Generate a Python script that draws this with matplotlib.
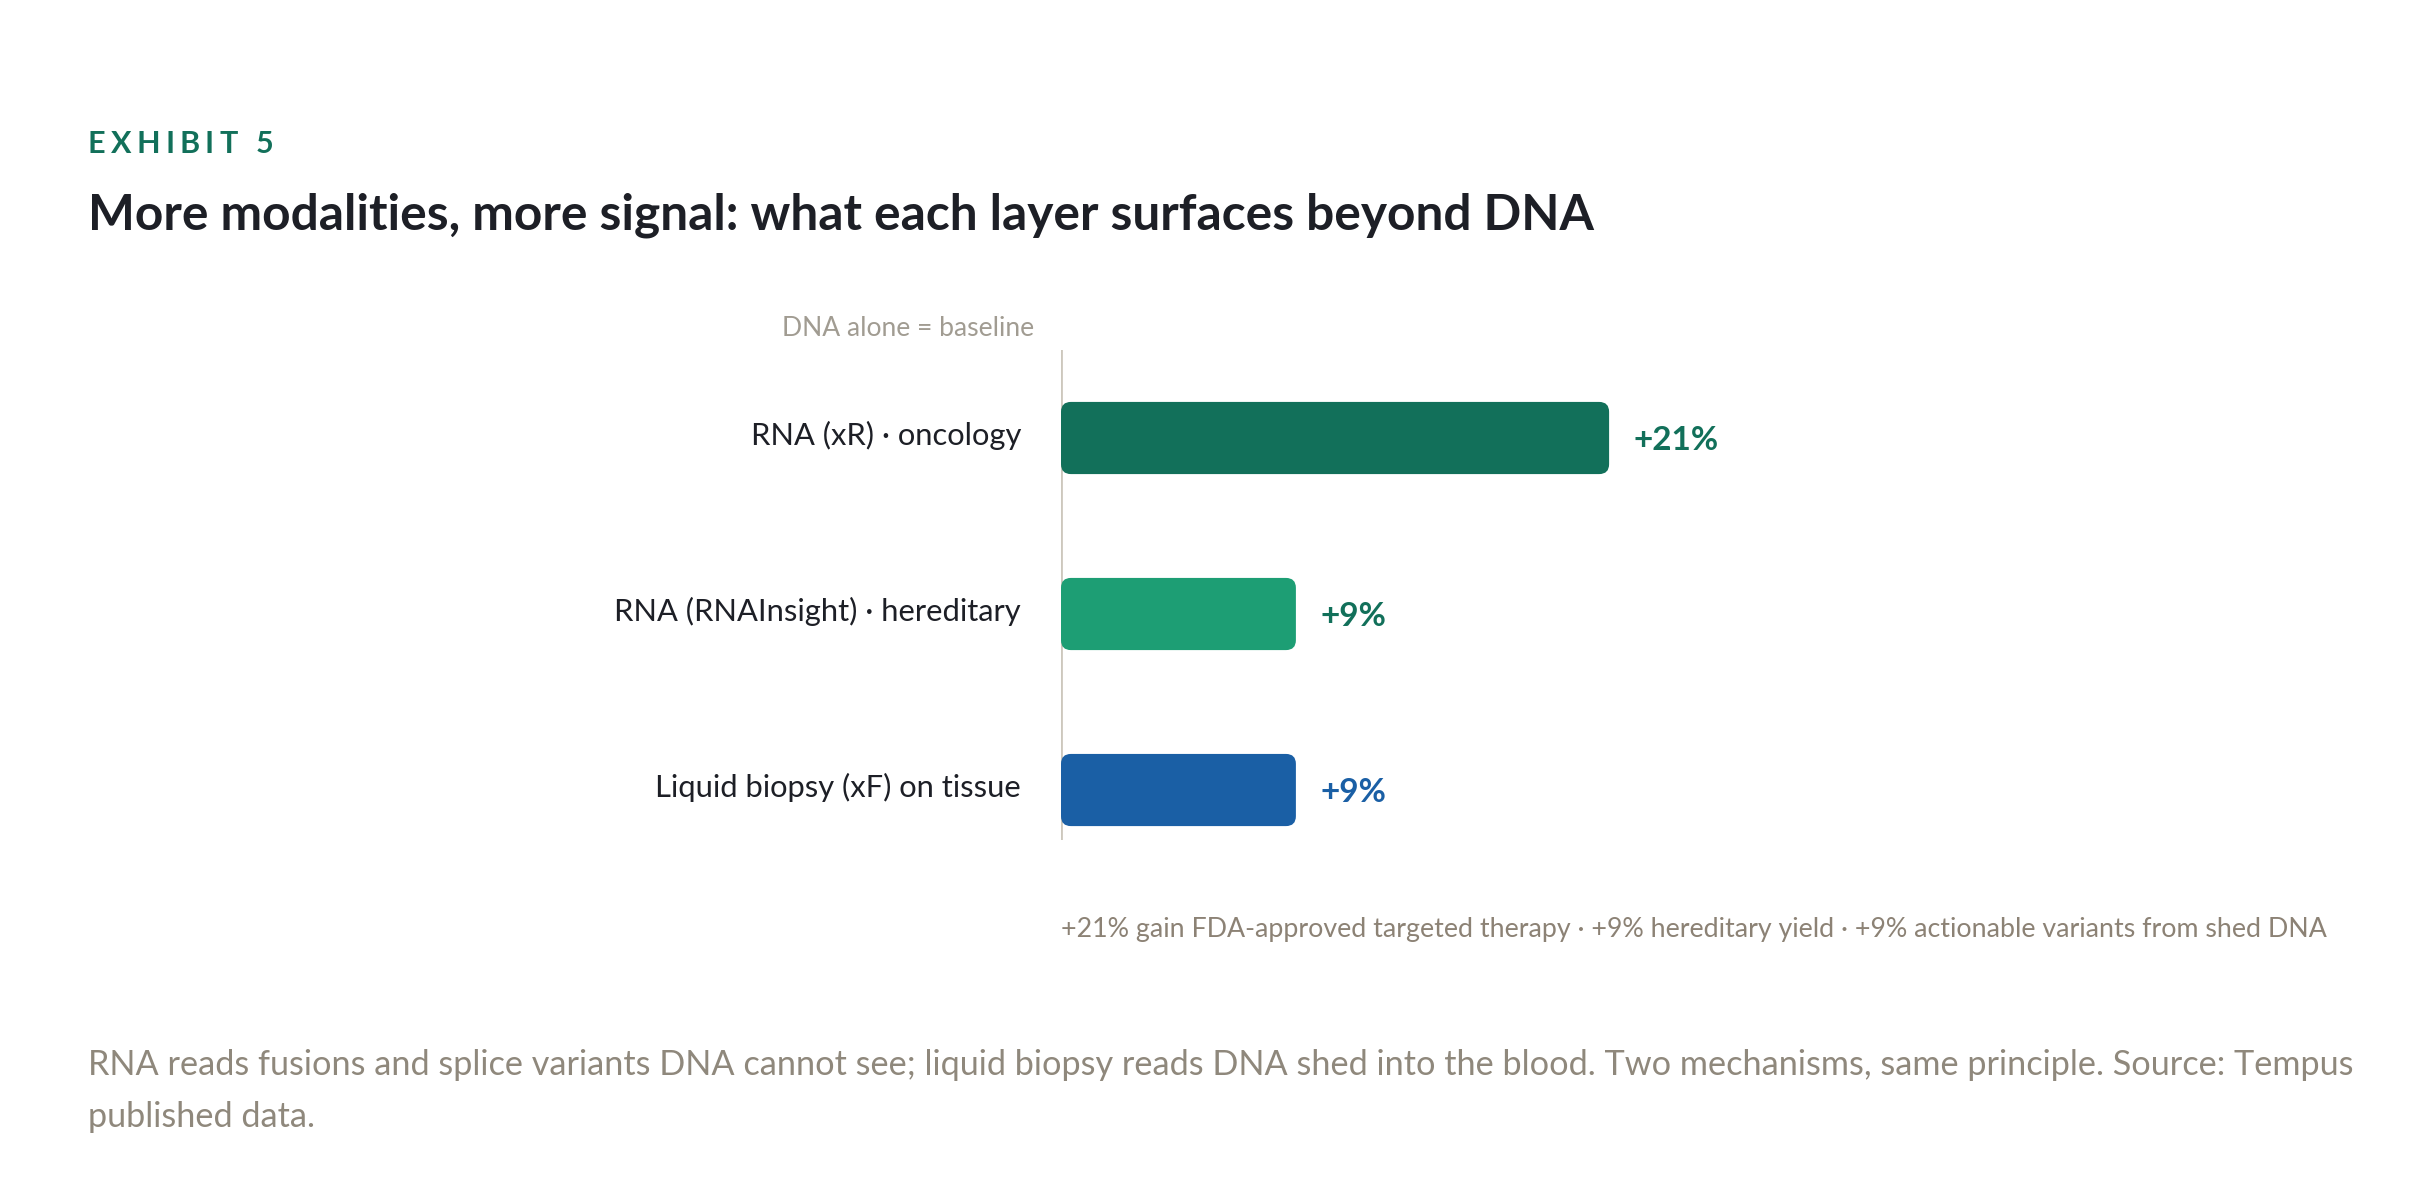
import matplotlib.pyplot as plt
from matplotlib.patches import FancyBboxPatch

plt.rcParams['font.family'] = ['Lato', 'DejaVu Sans']

# data
categories = ['RNA (xR) · oncology', 'RNA (RNAInsight) · hereditary', 'Liquid biopsy (xF) on tissue']
gains = [21, 9, 9]
value_labels = ['+21%', '+9%', '+9%']
bar_colors = ['#12705a', '#1d9e74', '#1a5fa5']
label_colors = ['#12705a', '#12705a', '#1a5fa5']

W, H = 2424, 1202
fig = plt.figure(figsize=(W / 100, H / 100), dpi=100)
renderer = fig.canvas.get_renderer()

def fx(px):
    return px / W

def fy(py):
    return 1 - py / H

# exhibit tag, letter-spaced by hand
x = 88
for ch in 'EXHIBIT 5':
    t = fig.text(fx(x), fy(153), ch, fontsize=22, fontweight='bold', color='#12705a', va='baseline')
    x += t.get_window_extent(renderer).width + 5.2

fig.text(fx(88), fy(229), 'More modalities, more signal: what each layer surfaces beyond DNA',
         fontsize=35.7, fontweight='bold', color='#1d1f26', va='baseline')

# chart area: x=0 at the baseline line, 26.1 px per point, 176 px per row
ax = fig.add_axes([fx(1061), fy(840), 1044 / W, 490 / H])
ax.set_xlim(0, 40)
ax.set_ylim(2.284, -0.5)
ax.axis('off')
ax.axvline(0, color='#cdc8bd', lw=2.0, zorder=1)

ypos = list(range(len(categories)))
bars = ax.barh(ypos, gains, height=0.41, color=bar_colors)
aspect = (1 / 176) / (1 / 26.1)
for b, c in zip(bars, bar_colors):
    b.set_visible(False)
    ax.add_patch(FancyBboxPatch((b.get_x(), b.get_y()), b.get_width(), b.get_height(),
                                boxstyle='round,pad=0,rounding_size=0.38',
                                mutation_aspect=aspect, facecolor=c, edgecolor='none', zorder=2))

for y, cat, g, lab, lc in zip(ypos, categories, gains, value_labels, label_colors):
    ax.annotate(cat, xy=(0, y), xytext=(-28.8, 2), textcoords='offset points',
                ha='right', va='center', fontsize=22.2, color='#1d1f26')
    ax.annotate(lab, xy=(g, y), xytext=(17.4, -1.8), textcoords='offset points',
                ha='left', va='center', fontsize=24, fontweight='bold', color=lc)

fig.text(fx(1034), fy(329), 'DNA alone = baseline', fontsize=19.1, color='#a19c92', ha='right', va='center')

fig.text(fx(1061), fy(929),
         '+21% gain FDA-approved targeted therapy · +9% hereditary yield · +9% actionable variants from shed DNA',
         fontsize=19.3, color='#8c8275', va='center')

fig.text(fx(88), fy(1065),
         'RNA reads fusions and splice variants DNA cannot see; liquid biopsy reads DNA shed into the blood. '
         'Two mechanisms, same principle. Source: Tempus',
         fontsize=24.7, color='#8f887c', va='center')
fig.text(fx(88), fy(1117), 'published data.', fontsize=24.7, color='#8f887c', va='center')

fig.savefig('out.png', dpi=100, facecolor='white')
